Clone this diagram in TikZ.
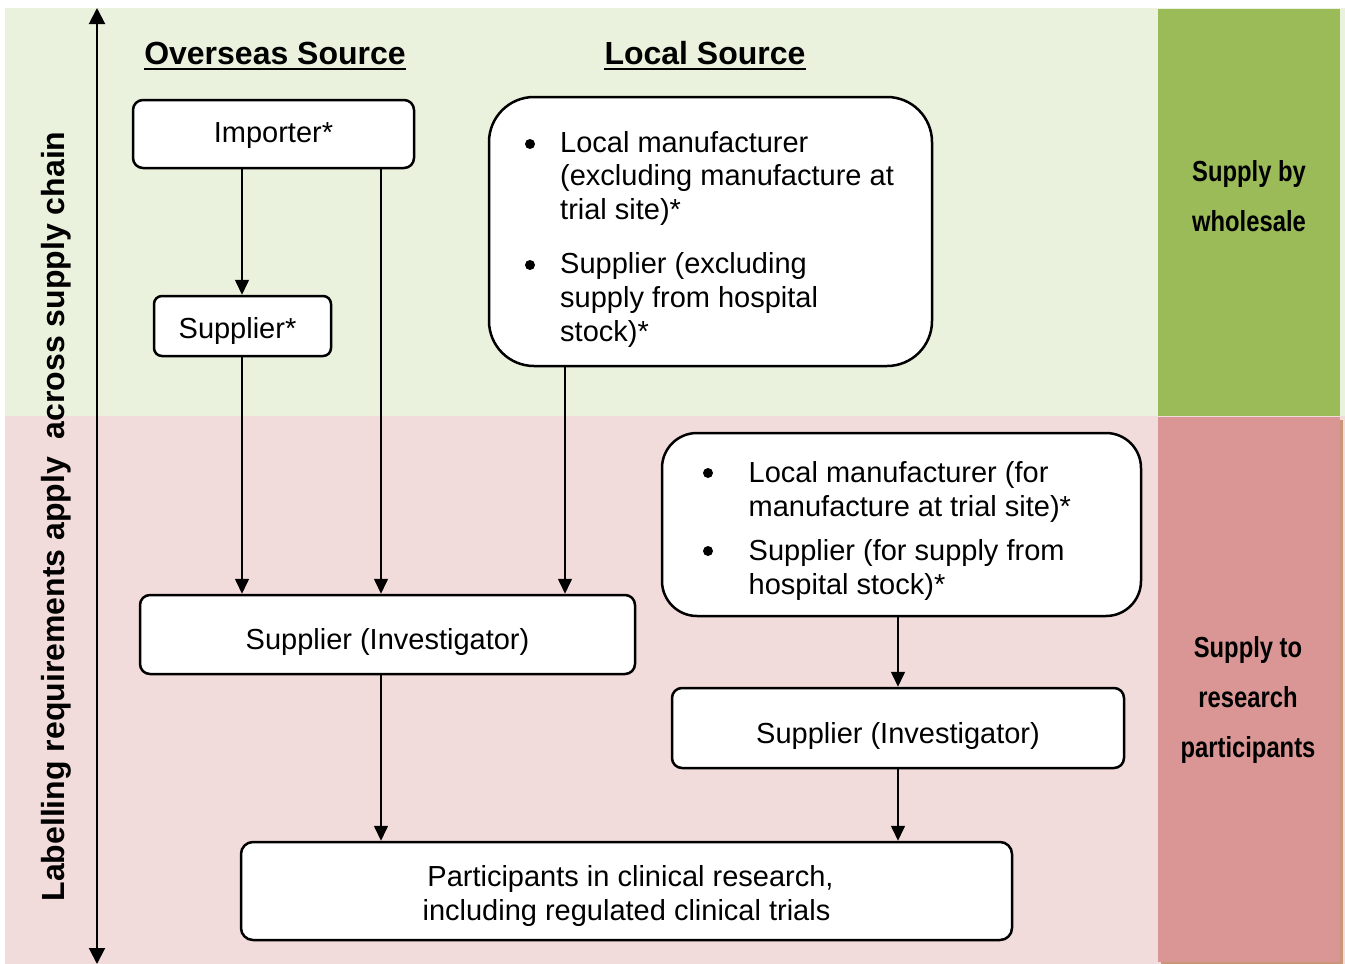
\documentclass[tikz,border=0pt]{standalone}
\usepackage{fontspec}
\setmainfont{Liberation Sans}
\newfontfamily\narrowsans[FakeStretch=0.82]{Liberation Sans}
\usetikzlibrary{arrows.meta}

\definecolor{palegreen}{HTML}{EAF1DD}
\definecolor{leafgreen}{HTML}{9BBB59}
\definecolor{palepink}{HTML}{F2DCDB}
\definecolor{rosepink}{HTML}{D99694}
\definecolor{rosebrown}{HTML}{C9967A}

\newcommand{\bodyfont}{\fontsize{29}{34}\selectfont}
\newcommand{\headfont}{\fontsize{32}{38}\selectfont\bfseries}
\newcommand{\sidefont}{\narrowsans\bfseries\fontsize{29}{50}\selectfont}

\begin{document}
\begin{tikzpicture}[x=1pt,y=-1pt,
  box/.style={draw, line width=2.5pt, fill=white, rounded corners=10pt,
    inner sep=0pt, font=\bodyfont, text height=21pt, text depth=5pt},
  invbox/.style={box, text height=30pt, text depth=0pt},
  listbox/.style={draw, line width=2.5pt, fill=white, inner sep=0pt},
  listline/.style={anchor=base west, inner sep=0pt, font=\bodyfont},
  bulletdot/.style={circle, fill=black, inner sep=0pt, minimum size=10pt},
  hdr/.style={anchor=base, inner sep=0pt, font=\headfont},
  conn/.style={line width=1.6pt, -{Triangle[length=15pt, width=14pt]}},
  axis/.style={line width=2pt, {Triangle[length=16pt, width=16pt]}-{Triangle[length=16pt, width=16pt]}},
  side/.style={align=center, inner sep=0pt, font=\sidefont}
]
\useasboundingbox (0,0) rectangle (1345,964);

% background bands
\fill[palegreen] (5,8) rectangle (1345,416);
\fill[palepink] (5,416) rectangle (1345,964);
\fill[leafgreen] (1158,8.5) rectangle (1340,415.5);
\fill[rosebrown] (1161,420) rectangle (1343,964);
\fill[rosepink] (1158,417) rectangle (1340,962);

% side labels
\node[side] (wholesale) at (1249,196) {Supply by\\wholesale};
\node[side] (research) at (1248,700) {Supply to\\research\\participants};

% vertical axis and its label
\coordinate (axtop) at (97,8);
\coordinate (axbot) at (97,964);
\draw[axis] (axtop) -- (axbot);
\node[anchor=base, rotate=90, inner sep=0pt, font=\headfont] (axlabel) at (64.5,516.5)
  {Labelling requirements apply~~across supply chain};

% column headings
\node[hdr] (overseas) at (275,64.5) {Overseas Source};
\node[hdr] (local) at (705,64.5) {Local Source};
\draw[line width=2.6pt] ([yshift=-4.5pt]overseas.base west) -- ([yshift=-4.5pt]overseas.base east);
\draw[line width=2.6pt] ([yshift=-4.5pt]local.base west) -- ([yshift=-4.5pt]local.base east);

% overseas chain
\node[box, minimum width=281pt, minimum height=68pt] (imp) at (273.5,134) {Importer*};
\node[box, rounded corners=8pt, text height=29pt, minimum width=177pt, minimum height=60pt] (sup) at (242.5,326) {Supplier*\kern10pt};
\node[invbox, minimum width=495pt, minimum height=79pt] (invL) at (387.5,634.5) {Supplier (Investigator)};

% local source, wholesale
\node[listbox, rounded corners=45pt, minimum width=443pt, minimum height=269pt] (loc1) at (710.5,231.5) {};
\node[bulletdot] (b1) at (530,144) {};
\node[bulletdot] (b2) at (530,265) {};
\node[listline] (t11) at (560,152) {Local manufacturer};
\node[listline] (t12) at (560,185) {(excluding manufacture at};
\node[listline] (t13) at (560,219) {trial site)*};
\node[listline] (t21) at (560,273) {Supplier (excluding};
\node[listline] (t22) at (560,307) {supply from hospital};
\node[listline] (t23) at (560,341) {stock)*};

% local source, trial site
\node[listbox, rounded corners=35pt, minimum width=479pt, minimum height=183pt] (loc2) at (901.5,524.5) {};
\node[bulletdot] (b3) at (708,473) {};
\node[bulletdot] (b4) at (708,551) {};
\node[listline] (t31) at (748.5,482) {Local manufacturer (for};
\node[listline] (t32) at (748.5,516) {manufacture at trial site)*};
\node[listline] (t41) at (748.5,560) {Supplier (for supply from};
\node[listline] (t42) at (748.5,594) {hospital stock)*};

\node[invbox, minimum width=452pt, minimum height=80pt] (invR) at (898,728) {Supplier (Investigator)};

% participants
\node[draw, line width=2.5pt, fill=white, rounded corners=12pt, inner sep=0pt,
  minimum width=771pt, minimum height=98pt, align=center, font=\bodyfont] (part) at (626.5,891)
  {\rule{0pt}{31pt}\hspace*{8pt}Participants in clinical research,\\including regulated clinical trials};

% connector columns
\coordinate (cA) at (242,0);
\coordinate (cB) at (381,0);
\coordinate (cC) at (565,0);
\coordinate (cD) at (898,0);

\draw[conn] (imp.south -| cA) -- (sup.north -| cA);
\draw[conn] (imp.south -| cB) -- (invL.north -| cB);
\draw[conn] (sup.south -| cA) -- (invL.north -| cA);
\draw[conn] (loc1.south -| cC) -- (invL.north -| cC);
\draw[conn] (loc2.south -| cD) -- (invR.north -| cD);
\draw[conn] (invL.south -| cB) -- (part.north -| cB);
\draw[conn] (invR.south -| cD) -- (part.north -| cD);
\end{tikzpicture}
\end{document}
